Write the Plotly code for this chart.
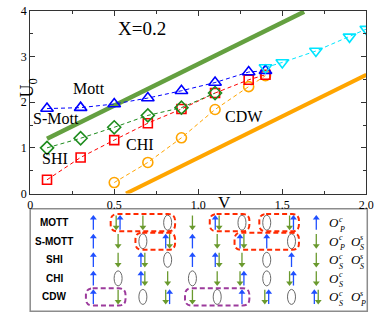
import plotly.graph_objects as go

# ---------------- main panel data ----------------
mott_v = [0.1, 0.3, 0.5, 0.7, 0.9, 1.1, 1.3, 1.4]
mott_u = [1.86, 1.88, 1.96, 2.09, 2.25, 2.43, 2.66, 2.69]
edge_v = [1.4, 1.5, 1.7, 1.9, 2.0]
edge_u = [2.76, 2.87, 3.12, 3.43, 3.6]
shi_v = [0.1, 0.3, 0.5, 0.7, 0.9, 1.1]
shi_u = [1.0, 1.21, 1.45, 1.71, 1.88, 2.2]
smott_v = [0.1, 0.3, 0.5, 0.7, 0.9, 1.1, 1.3, 1.4]
smott_u = [0.3, 0.79, 1.17, 1.54, 1.85, 2.2, 2.49, 2.6]
chi_v = [0.5, 0.7, 0.9, 1.1, 1.3, 1.4]
chi_u = [0.24, 0.68, 1.22, 1.84, 2.34, 2.58]
upper_line_v = [0.1, 1.63]
upper_line_u = [1.2, 3.98]
lower_line_v = [0.57, 2.0]
lower_line_u = [0.0, 2.6]

x_tick_vals = [0, 0.5, 1.0, 1.5, 2.0]
x_tick_text = ["0", "0.5", "1.0", "1.5", "2.0"]
y_tick_vals = [0, 1, 2, 3, 4]
y_tick_text = ["0", "1", "2", "3", "4"]

phase_names = ["Mott", "S-Mott", "SHI", "CHI", "CDW"]
phase_v = [0.347, 0.156, 0.15, 0.653, 1.27]
phase_u = [2.30, 1.65, 0.77, 1.07, 1.68]
title_text = "X=0.2"

# ---------------- schematic data ----------------
row_names = ["MOTT", "S-MOTT", "SHI", "CHI", "CDW"]
site_states = [
    ["U", "DU", "D", "O", "D", "UD", "O", "O", "DU", "U"],
    ["U", "D", "O", "UD", "U", "D", "UD", "U", "O", "D"],
    ["U", "D", "UD", "O", "U", "UD", "D", "O", "U", "D"],
    ["U", "O", "UD", "D", "O", "D", "DU", "O", "DU", "D"],
    ["U", "D", "O", "DU", "D", "O", "U", "DU", "O", "UD"],
]
order_params = [
    [("c", "P")],
    [("c", "P"), ("s", "S")],
    [("c", "S"), ("s", "S")],
    [("c", "S")],
    [("c", "S"), ("s", "P")],
]
red_boxes = [(0, 1, 3), (0, 5, 6), (0, 7, 8), (1, 2, 3), (1, 6, 8)]
purple_boxes = [(4, 0, 1), (4, 4, 6)]

# ---------------- layout geometry ----------------
W, H = 385, 322
SITE0, DSITE = 93.0, 25.5      # px of first site, spacing
ROW0, DROW = 225.5, 19.4       # px of first row, spacing

def sx(px):
    return (px - SITE0) / DSITE

def sy(py):
    return (py - ROW0) / DROW

SERIF = "Liberation Serif, Times New Roman, serif"
SANS = "Liberation Sans, Arial, sans-serif"
BLUE_A = "#1f4fff"
GREEN_A = "#6a9a2e"

fig = go.Figure()

# thick phase boundary lines
fig.add_trace(go.Scatter(x=upper_line_v, y=upper_line_u, mode="lines",
                         line=dict(color="#64a040", width=4.5), showlegend=False))
fig.add_trace(go.Scatter(x=lower_line_v, y=lower_line_u, mode="lines",
                         line=dict(color="#ffa500", width=4), showlegend=False))

def series(x, y, color, symbol, size):
    fig.add_trace(go.Scatter(
        x=x, y=y, mode="lines+markers",
        line=dict(color=color, width=1, dash="4px,3px"),
        marker=dict(symbol=symbol, size=size, color=color,
                    line=dict(color=color, width=1.6)),
        showlegend=False))

series(chi_v, chi_u, "#ffa500", "circle-open", 10)
series(smott_v, smott_u, "#ff0000", "square-open", 9)
series(shi_v, shi_u, "#1e8c1e", "diamond-open", 10)
series(mott_v, mott_u, "#0000ff", "triangle-up-open", 11)
series(edge_v, edge_u, "#00e5ff", "triangle-down-open", 11)

annotations = []
for name, v, u in zip(phase_names, phase_v, phase_u):
    annotations.append(dict(x=v, y=u, xref="x", yref="y", text=name, showarrow=False,
                            font=dict(family=SERIF, size=16, color="black")))
annotations.append(dict(x=0.665, y=3.62, xref="x", yref="y", text=title_text,
                        showarrow=False, font=dict(family=SERIF, size=19, color="black")))
annotations.append(dict(x=12 / W, y=1 - 73 / H, xref="paper", yref="paper",
                        text="U<sub>0</sub>", textangle=-90, showarrow=False,
                        font=dict(family=SERIF, size=18, color="black")))
annotations.append(dict(x=228 / W, y=1 - 204 / H, xref="paper", yref="paper",
                        text="V", showarrow=False,
                        font=dict(family=SERIF, size=17, color="black")))

# ---------------- schematic ----------------
shaft_x = {"b": [], "g": []}
shaft_y = {"b": [], "g": []}
head_x = {"b": [], "g": []}
head_y = {"b": [], "g": []}
half = 7.5 / DROW
headpos = 4.8 / DROW
dx = 2.0 / DSITE
shapes = []

def add_arrow(kind, x, y):
    if kind == "b":
        shaft_x["b"] += [x, x, None]
        shaft_y["b"] += [y + half, y - headpos, None]
        head_x["b"].append(x)
        head_y["b"].append(y - headpos)
    else:
        shaft_x["g"] += [x, x, None]
        shaft_y["g"] += [y - half, y + headpos, None]
        head_x["g"].append(x)
        head_y["g"].append(y + headpos)

for j, row in enumerate(site_states):
    for i, st in enumerate(row):
        if st == "U":
            add_arrow("b", i, j)
        elif st == "D":
            add_arrow("g", i, j)
        elif st == "UD":
            add_arrow("b", i - dx, j)
            add_arrow("g", i + dx, j)
        elif st == "DU":
            add_arrow("g", i - dx, j)
            add_arrow("b", i + dx, j)
        else:
            shapes.append(dict(type="circle", xref="x2", yref="y2",
                               xsizemode="pixel", ysizemode="pixel",
                               xanchor=i, yanchor=j, x0=-4, x1=4, y0=-7.5, y1=7.5,
                               line=dict(color="#6a6a6a", width=1)))

for k, col, sym in [("b", BLUE_A, "triangle-up"), ("g", GREEN_A, "triangle-down")]:
    fig.add_trace(go.Scatter(x=shaft_x[k], y=shaft_y[k], xaxis="x2", yaxis="y2",
                             mode="lines", line=dict(color=col, width=1.3),
                             showlegend=False, hoverinfo="skip"))
    fig.add_trace(go.Scatter(x=head_x[k], y=head_y[k], xaxis="x2", yaxis="y2",
                             mode="markers", marker=dict(symbol=sym, size=6, color=col),
                             showlegend=False, hoverinfo="skip"))

def rounded_box(row, a, b, color):
    padx = 0.3
    pady = 9.0 / DROW
    rx = 7.0 / DSITE
    ry = 7.0 / DROW
    x0, x1 = a - padx, b + padx
    y0, y1 = row - pady, row + pady
    p = (f"M {x0+rx},{y0} L {x1-rx},{y0} Q {x1},{y0} {x1},{y0+ry} "
         f"L {x1},{y1-ry} Q {x1},{y1} {x1-rx},{y1} L {x0+rx},{y1} "
         f"Q {x0},{y1} {x0},{y1-ry} L {x0},{y0+ry} Q {x0},{y0} {x0+rx},{y0} Z")
    return dict(type="path", path=p, xref="x2", yref="y2",
                line=dict(color=color, width=2, dash="5px,3px"))

for r, a, b in red_boxes:
    shapes.append(rounded_box(r, a, b, "#ff2a00"))
for r, a, b in purple_boxes:
    shapes.append(rounded_box(r, a, b, "#9c3a9c"))

# panel frame
shapes.append(dict(type="rect", xref="paper", yref="paper",
                   x0=28 / W, x1=375 / W, y0=1 - 318 / H, y1=1 - 211 / H,
                   line=dict(color="#8c8c8c", width=1.5), layer="below"))

for j, name in enumerate(row_names):
    annotations.append(dict(x=sx(53), y=j, xref="x2", yref="y2", text=f"<b>{name}</b>",
                            showarrow=False, font=dict(family=SANS, size=10, color="black")))
    for k, (sup, sub) in enumerate(order_params[j]):
        ox = 335 + 22 * k
        annotations.append(dict(x=sx(ox), y=j, xref="x2", yref="y2", text="<i>O</i>",
                                xanchor="left", showarrow=False, borderpad=0,
                                font=dict(family=SERIF, size=13, color="black")))
        annotations.append(dict(x=sx(ox + 9.5), y=j, xref="x2", yref="y2",
                                text=f"<i>{sup}</i>", xanchor="left", yanchor="bottom",
                                yshift=-2, showarrow=False, borderpad=0,
                                font=dict(family=SERIF, size=8, color="black")))
        annotations.append(dict(x=sx(ox + 9.5), y=j, xref="x2", yref="y2",
                                text=f"<i>{sub}</i>", xanchor="left", yanchor="top",
                                yshift=-1, showarrow=False, borderpad=0,
                                font=dict(family=SERIF, size=8, color="black")))

axis_common = dict(showline=True, linecolor="#333333", linewidth=1, mirror="ticks",
                   ticks="inside", ticklen=5, tickcolor="#333333", showgrid=False,
                   zeroline=False, ticklabeloverflow="allow",
                   tickfont=dict(family=SERIF, size=12, color="black"))

fig.update_layout(
    width=W, height=H, autosize=False,
    margin=dict(l=0, r=0, t=0, b=0),
    paper_bgcolor="white", plot_bgcolor="rgba(0,0,0,0)",
    xaxis=dict(domain=[28 / W, 374 / W], range=[0, 2], tickvals=x_tick_vals,
               ticktext=x_tick_text,
               minor=dict(ticks="inside", ticklen=3, dtick=0.25, tickcolor="#333333"),
               **axis_common),
    yaxis=dict(domain=[1 - 195 / H, 1 - 4 / H], range=[0, 4], tickvals=y_tick_vals,
               ticktext=y_tick_text,
               minor=dict(ticks="inside", ticklen=3, dtick=0.5, tickcolor="#333333"),
               **axis_common),
    xaxis2=dict(domain=[0, 1], range=[sx(0), sx(W)], visible=False, anchor="y2"),
    yaxis2=dict(domain=[0, 1], range=[sy(H), sy(0)], visible=False, anchor="x2"),
    shapes=shapes,
    annotations=annotations,
)

fig.write_html(
    "out.html",
    config={"displayModeBar": False, "staticPlot": True},
    post_script="document.body.style.margin='0';document.body.style.overflow='hidden';",
)
